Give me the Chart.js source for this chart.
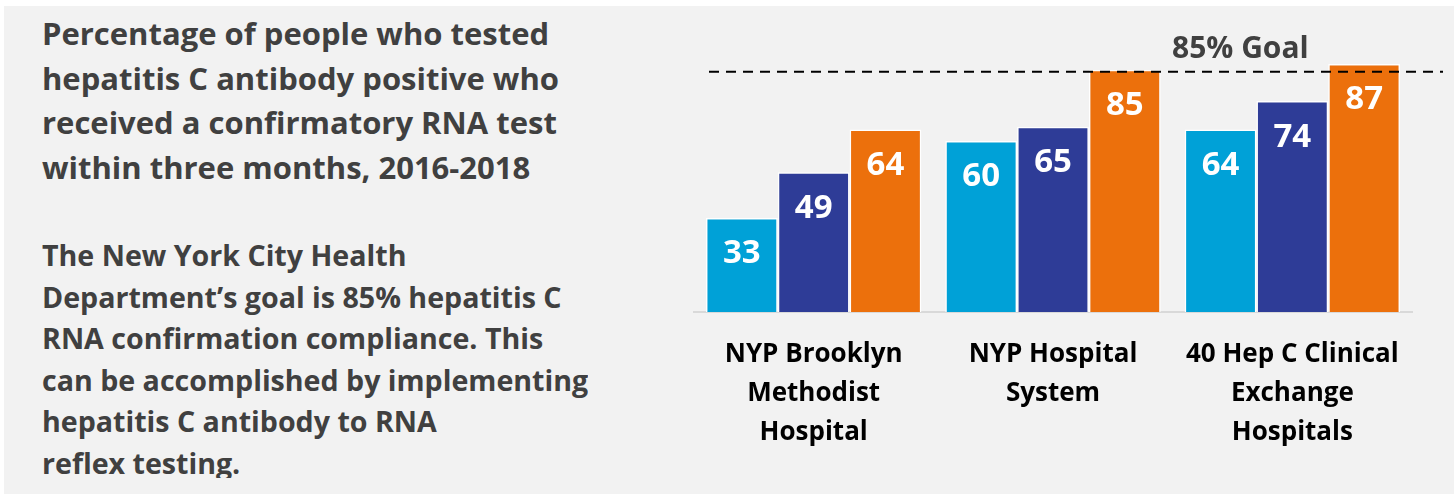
<!DOCTYPE html>
<html>
<head>
<meta charset="utf-8">
<script src="https://cdn.jsdelivr.net/npm/chart.js@4/dist/chart.umd.min.js"></script>
<style>
  html, body { margin: 0; padding: 0; background: #fff; width: 1454px; height: 495px; overflow: hidden; }
  #panel { position: absolute; left: 4px; top: 6px; width: 1450px; height: 488px; background: #f2f2f2; }
  .txt { position: absolute; left: 42px; font-family: "Open Sans", Lato, sans-serif; font-weight: bold; color: #404040; white-space: nowrap; }
  #title { top: 11px; font-size: 31px; line-height: 44.7px; }
  #para { top: 234px; font-size: 28.6px; line-height: 41.5px; height: 244px; overflow: hidden; }
  #wrap { position: absolute; left: 0; top: 0; width: 1454px; height: 495px; }
</style>
</head>
<body>
<div id="panel"></div>
<div class="txt" id="title">Percentage of people who tested<br>hepatitis C antibody positive who<br>received a confirmatory RNA test<br>within three months, 2016-2018</div>
<div class="txt" id="para">The New York City Health<br>Department’s goal is 85% hepatitis C<br>RNA confirmation compliance. This<br>can be accomplished by implementing<br>hepatitis C antibody to RNA<br>reflex testing.</div>
<div id="wrap"><canvas id="chart"></canvas></div>
<script>
const categories = [
  ["NYP Brooklyn", "Methodist", "Hospital"],
  ["NYP Hospital", "System"],
  ["40 Hep C Clinical", "Exchange", "Hospitals"]
];
const series2016 = [33, 60, 64];
const series2017 = [49, 65, 74];
const series2018 = [64, 85, 87];
const goalValue = 85;
const goalLabel = "85% Goal";

const overlay = {
  id: "overlay",
  afterDatasetsDraw(chart) {
    const ctx = chart.ctx;
    const area = chart.chartArea;
    const y = chart.scales.y;

    // value labels inside bars
    ctx.save();
    ctx.fillStyle = "#ffffff";
    ctx.font = "bold 33px 'Open Sans', Lato, sans-serif";
    ctx.textAlign = "center";
    ctx.textBaseline = "middle";
    chart.data.datasets.forEach((ds, i) => {
      chart.getDatasetMeta(i).data.forEach((bar, j) => {
        ctx.fillText(String(ds.data[j]), bar.x, bar.y + 36);
      });
    });
    ctx.restore();

    // goal line
    const gy = y.getPixelForValue(goalValue) + 2;
    ctx.save();
    ctx.strokeStyle = "#000000";
    ctx.lineWidth = 2;
    ctx.setLineDash([10, 7]);
    ctx.beginPath();
    ctx.moveTo(area.left + 15, gy);
    ctx.lineTo(area.right + 31, gy);
    ctx.stroke();
    ctx.restore();

    ctx.save();
    ctx.fillStyle = "#404040";
    ctx.font = "bold 30px 'Open Sans', Lato, sans-serif";
    ctx.textAlign = "left";
    ctx.textBaseline = "middle";
    ctx.fillText(goalLabel, area.left + 478, gy - 22);
    ctx.restore();
  }
};

new Chart(document.getElementById("chart"), {
  type: "bar",
  data: {
    labels: categories,
    datasets: [
      { label: "2016", data: series2016, backgroundColor: "#00a1d7" },
      { label: "2017", data: series2017, backgroundColor: "#2e3c97" },
      { label: "2018", data: series2018, backgroundColor: "#ec700c" }
    ]
  },
  options: {
    responsive: true,
    maintainAspectRatio: false,
    animation: false,
    layout: { padding: { left: 694, right: 42, top: 27, bottom: 0 } },
    datasets: {
      bar: { categoryPercentage: 0.9, barPercentage: 1.0, borderColor: "#ffffff", borderWidth: 1.5 }
    },
    plugins: { legend: { display: false }, tooltip: { enabled: false } },
    scales: {
      y: { display: false, min: 0, max: 100 },
      x: {
        grid: { display: false, drawTicks: false },
        border: { color: "#d9d9d9", width: 2 },
        afterFit(scale) { scale.height = 183; },
        ticks: {
          color: "#000000",
          padding: 23,
          maxRotation: 0,
          autoSkip: false,
          font: { family: "'Open Sans', Lato, sans-serif", weight: "bold", size: 26, lineHeight: 1.5 }
        }
      }
    }
  },
  plugins: [overlay]
});
</script>
</body>
</html>
